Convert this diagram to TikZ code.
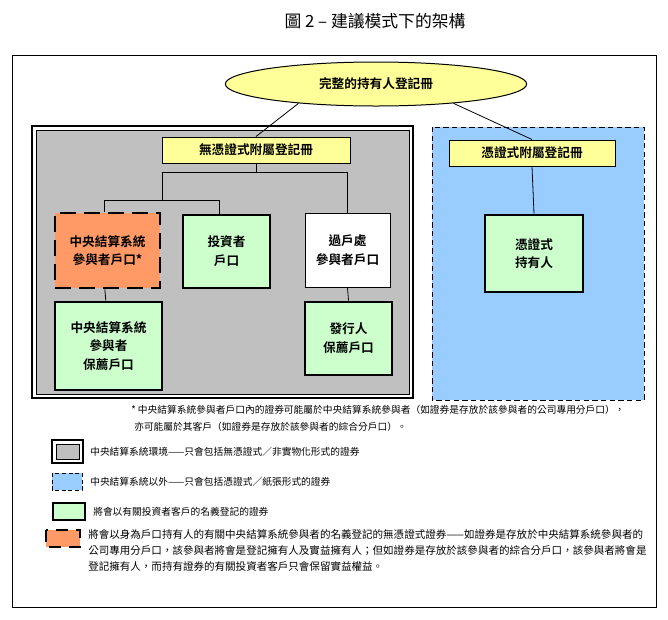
\documentclass[tikz,border=0pt]{standalone}
\usepackage{fontspec}
\setmainfont{Noto Sans CJK TC}[BoldFont={Noto Sans CJK TC Bold}]
\usetikzlibrary{shapes.geometric}
\definecolor{regyellow}{RGB}{255,255,153}
\definecolor{ccassgray}{RGB}{192,192,192}
\definecolor{paperblue}{RGB}{153,204,255}
\definecolor{nomgreen}{RGB}{204,255,204}
\definecolor{partorange}{RGB}{255,153,102}
\tikzset{
  boxtext/.style={font=\bfseries\fontsize{9.5}{14}\selectfont, align=center, inner sep=0pt},
  regbox/.style={boxtext, draw, line width=0.75pt, fill=regyellow, minimum height=19.5pt},
  nombox/.style={boxtext, draw, line width=2.2pt, fill=nomgreen},
  partbox/.style={boxtext, draw, line width=2.2pt, fill=partorange, dash pattern=on 12pt off 6pt},
  plainbox/.style={boxtext, draw, line width=0.75pt, fill=white},
  link/.style={draw, line width=0.6pt},
  notetext/.style={anchor=west, font=\fontsize{7.3}{12}\selectfont, inner sep=0pt, align=left},
}
\begin{document}
\begin{tikzpicture}[x=0.75pt,y=-0.75pt]
\useasboundingbox (0,0) rectangle (668,619);
\node (title) at (375,21) [font=\fontsize{12.6}{14}\selectfont] {圖 2 – 建議模式下的架構};
\draw[line width=0.6pt] (12,55) rectangle (656,607);
% areas
\draw[line width=2pt, fill=white] (32,126) rectangle (413,398);
\draw[line width=0.75pt, fill=ccassgray] (36,130) rectangle (409,394);
\draw[line width=0.75pt, dash pattern=on 4pt off 2.5pt, fill=paperblue] (432,127) rectangle (644,400);
% registers
\node (reg) at (376,84) [ellipse, draw, line width=0.75pt, fill=regyellow, minimum width=226pt, minimum height=33pt, boxtext] {完整的持有人登記冊};
\node (nocert) at (256,150) [regbox, minimum width=141pt] {無憑證式附屬登記冊};
\node (cert) at (532,153) [regbox, minimum width=124.5pt] {憑證式附屬登記冊};
% accounts
\node (ccass) at (107.5,250.5) [partbox, minimum width=78.75pt, minimum height=56.25pt] {中央結算系統\\參與者戶口*};
\node (invest) at (226.5,251.5) [nombox, minimum width=65.25pt, minimum height=54.75pt] {投資者\\戶口};
\node (xfer) at (347.5,250) [plainbox, minimum width=63.75pt, minimum height=55.5pt] {過戶處\\參與者戶口};
\node (ccassspon) at (108.5,346) [nombox, minimum width=80.25pt, minimum height=66pt] {中央結算系統\\參與者\\保薦戶口};
\node (issuer) at (348.5,338.5) [nombox, minimum width=65.25pt, minimum height=54.75pt] {發行人\\保薦戶口};
\node (holder) at (534,253.5) [nombox, minimum width=73.5pt, minimum height=57.75pt] {憑證式\\持有人};
% links
\coordinate (j1) at (162,172);
\coordinate (j2) at (162,200);
\path[link] (reg.194) -- (nocert.north);
\path[link] (reg.-14) -- (cert.north);
\path[link] (nocert.south) -- (nocert.south |- j1);
\path[link] (j1) -| (xfer.north);
\path[link] (j1) -- (j2);
\path[link] (j2) -| ([xshift=-5pt]invest.north);
\path[link] (j2) -| ([xshift=-2pt]ccass.north);
\path[link] ([xshift=-2pt]ccass.south) -- ([xshift=-2pt]ccassspon.north);
\path[link] (xfer.south) -- (issuer.north);
\path[link] (cert.south) -- (holder.north);
% note
\node (note1) at (131,410) [notetext] {* 中央結算系統參與者戶口內的證券可能屬於中央結算系統參與者（如證券是存放於該參與者的公司專用分戶口），};
\node (note2) at (134,427) [notetext] {亦可能屬於其客戶（如證券是存放於該參與者的綜合分戶口）。};
% legend
\draw[line width=2pt, fill=white] (52,440) rectangle (83,463);
\draw[line width=0.6pt, fill=ccassgray] (56,444) rectangle (79,459);
\node (key1) at (90,452) [notetext] {中央結算系統環境——只會包括無憑證式／非實物化形式的證券};
\draw[line width=0.75pt, dash pattern=on 3pt off 2pt, fill=paperblue] (52,473) rectangle (82,490);
\node (key2) at (90,482) [notetext] {中央結算系統以外——只會包括憑證式／紙張形式的證券};
\draw[line width=2.2pt, fill=nomgreen] (53,503) rectangle (85,520);
\node (key3) at (93,512) [notetext] {將會以有關投資者客戶的名義登記的證券};
\draw[line width=2pt, fill=partorange, dash pattern=on 9pt off 6pt] (46,530) rectangle (80,547);
\node (key4) at (88,529) [notetext, anchor=north west, font=\fontsize{7.9}{12}\selectfont] {將會以身為戶口持有人的有關中央結算系統參與者的名義登記的無憑證式證券——如證券是存放於中央結算系統參與者的\\公司專用分戶口，該參與者將會是登記擁有人及實益擁有人；但如證券是存放於該參與者的綜合分戶口，該參與者將會是\\登記擁有人，而持有證券的有關投資者客戶只會保留實益權益。};
\end{tikzpicture}
\end{document}
